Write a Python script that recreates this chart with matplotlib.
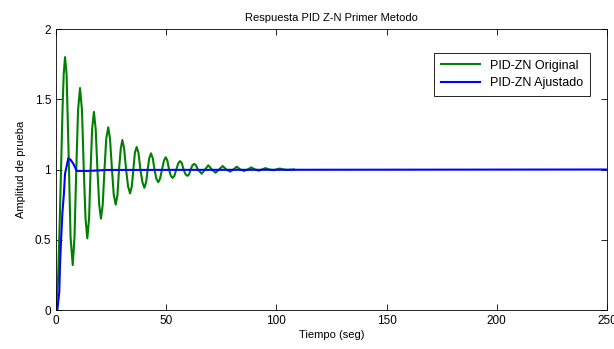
import matplotlib
matplotlib.use('Agg')
import matplotlib.pyplot as plt

plt.rcParams['font.family'] = ['Liberation Sans', 'DejaVu Sans']

# Original Z-N tuning (peaks, shoulders, crossings, troughs)
t_orig = [0, 1.0, 1.8, 3.0, 3.5, 4.1, 4.8, 5.9, 6.6, 7.6, 8.4, 9.2, 10.0, 10.9, 11.8,
          12.6, 13.4, 14.2, 15.0, 15.7, 16.4, 17.2, 18.0, 18.8, 19.6, 20.4, 21.2,
          22.0, 22.8, 23.7, 24.5, 25.4, 26.2, 27.1, 27.9, 28.6, 29.4, 30.1, 30.9,
          31.8, 32.7, 33.6, 34.4, 35.1, 35.8, 36.6, 37.4, 38.3, 39.2, 40.1, 40.9,
          41.6, 42.3, 43.1, 43.9, 44.7, 45.5, 46.4, 47.2, 48.1, 49.0, 49.8, 50.5,
          51.3, 52.1, 52.9, 53.7, 54.6, 55.5, 56.3, 57.1, 57.9, 58.8, 59.6, 60.4,
          61.1, 61.9, 62.7, 63.5, 64.4, 66.1, 67.6, 69.1, 70.7, 72.4, 74.0, 75.6,
          77.3, 79.0, 80.5, 82.0, 83.6, 85.3, 87.0, 88.6, 90.3, 92.0, 93.5, 95.0,
          96.7, 98.5, 100.0, 101.5, 103.2, 105.0, 108.0]
y_orig = [0, 0.25, 0.69, 1.45, 1.68, 1.80, 1.68, 1.0, 0.52, 0.32, 0.52, 1.0, 1.42, 1.58, 1.42,
          1.0, 0.65, 0.51, 0.65, 1.0, 1.29, 1.41, 1.29, 1.0, 0.75, 0.65, 0.75,
          1.0, 1.22, 1.30, 1.22, 1.0, 0.82, 0.75, 0.82, 1.0, 1.15, 1.21, 1.15,
          1.0, 0.88, 0.83, 0.88, 1.0, 1.12, 1.16, 1.12, 1.0, 0.91, 0.87, 0.91,
          1.0, 1.08, 1.115, 1.08, 1.0, 0.935, 0.91, 0.935, 1.0, 1.065, 1.087, 1.065,
          1.0, 0.955, 0.94, 0.955, 1.0, 1.045, 1.06, 1.045, 1.0, 0.965, 0.955, 0.965,
          1.0, 1.03, 1.04, 1.03, 1.0, 0.97, 1.0, 1.03, 1.0, 0.977, 1.0, 1.025,
          1.0, 0.985, 1.0, 1.02, 1.0, 0.99, 1.0, 1.015, 1.0, 0.992, 1.0, 1.01,
          1.0, 0.995, 1.0, 1.007, 1.0, 0.997, 1.0]

# Adjusted tuning
t_adj = [0, 0.6, 1.5, 1.8, 2.3, 2.9, 3.6, 4.1, 5.6, 6.6, 7.9, 9.4, 14.7, 23.0, 250]
y_adj = [0, 0.0, 0.13, 0.31, 0.50, 0.69, 0.83, 0.97, 1.08, 1.07, 1.04, 0.99, 0.99, 0.997, 1.0]

x_ticks = [0, 50, 100, 150, 200, 250]
y_ticks = [0, 0.5, 1, 1.5, 2]
y_labels = ['0', '0.5', '1', '1.5', '2']

fig = plt.figure(figsize=(6.14, 3.49), dpi=100)
ax = fig.add_axes([0.0912, 0.1117, 0.8974, 0.8052])

ax.plot(t_orig, y_orig, color='#008000', linewidth=1.5, label='PID-ZN Original')
ax.plot(t_adj, y_adj, color='#0000ff', linewidth=1.5, label='PID-ZN Ajustado')

ax.set_xlim(0, 250)
ax.set_ylim(0, 2)
ax.set_xticks(x_ticks)
ax.set_yticks(y_ticks)
ax.set_yticklabels(y_labels)
ax.tick_params(direction='in', top=True, right=True, labelsize=8.5, length=4, width=0.6)
for s in ax.spines.values():
    s.set_linewidth(0.6)

ax.set_title('Respuesta PID Z-N Primer Metodo', fontsize=8)
ax.set_xlabel('Tiempo (seg)', fontsize=8, labelpad=2)
ax.set_ylabel('Amplitud de prueba', fontsize=8, labelpad=6)

leg = ax.legend(loc='upper right', fontsize=9, fancybox=False, framealpha=1,
                edgecolor='black', bbox_to_anchor=(0.969, 0.915), handlelength=3.1,
                borderpad=0.55, labelspacing=0.45, borderaxespad=0)
leg.get_frame().set_linewidth(0.6)

fig.savefig('out.png', dpi=100)
